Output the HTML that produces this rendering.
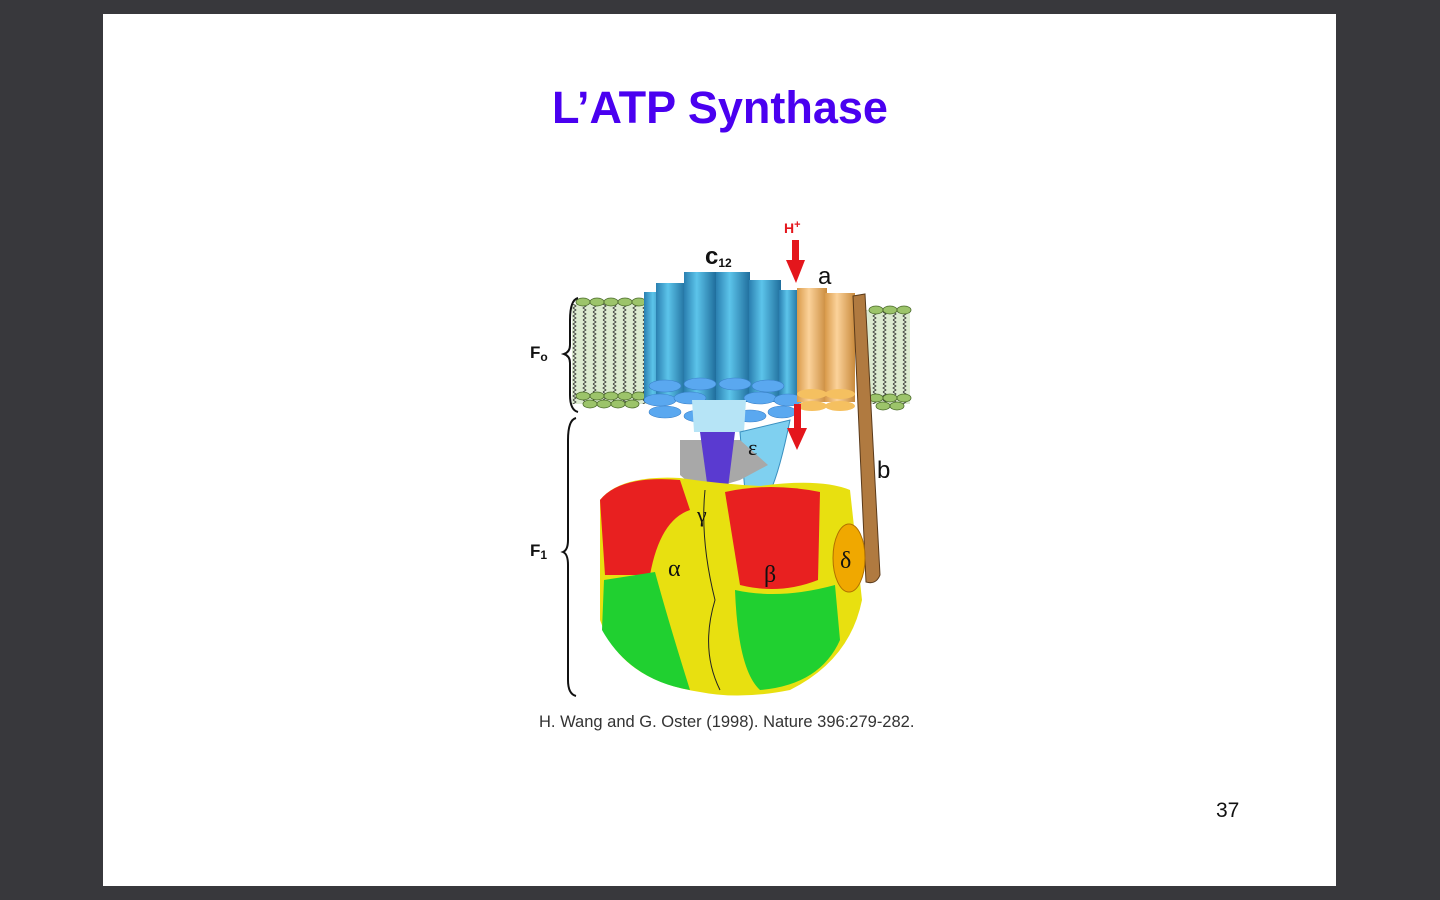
<!DOCTYPE html>
<html><head><meta charset="utf-8"><style>
html,body{margin:0;padding:0;width:1440px;height:900px;overflow:hidden;background:#38383c;font-family:"Liberation Sans",sans-serif}
#slide{position:absolute;left:103px;top:14px;width:1233px;height:872px;background:#fff}
#title{position:absolute;left:0;width:1440px;top:82px;text-align:center;font-weight:bold;font-size:45px;color:#4a00f0}
#cite{position:absolute;left:539px;top:713px;font-size:16.5px;color:#333}
#num{position:absolute;left:1216px;top:799px;font-size:21px;color:#111}
</style></head><body>
<div id="slide"></div>
<div id="title">L’ATP Synthase</div>
<svg width="1440" height="900" style="position:absolute;left:0;top:0">
<defs>
<linearGradient id="bl" x1="0" x2="1"><stop offset="0" stop-color="#2a7fb0"/><stop offset=".4" stop-color="#5cc4ea"/><stop offset="1" stop-color="#1f6d9c"/></linearGradient>
<linearGradient id="or" x1="0" x2="1"><stop offset="0" stop-color="#d99a4a"/><stop offset=".4" stop-color="#fbd29a"/><stop offset="1" stop-color="#c98a3c"/></linearGradient>
<pattern id="lip" width="10" height="8" patternUnits="userSpaceOnUse"><path d="M3 0 l3 2 -3 2 3 2 -3 2" stroke="#333" fill="none" stroke-width=".8"/></pattern>
</defs>
<rect x="572" y="304" width="75" height="100" fill="#dcebd0"/><rect x="572" y="304" width="75" height="100" fill="url(#lip)"/>
<rect x="862" y="310" width="48" height="94" fill="#dcebd0"/><rect x="862" y="310" width="48" height="94" fill="url(#lip)"/>
<g fill="#9cc46a" stroke="#4a6a2a" stroke-width=".8">
<ellipse cx="583" cy="302" rx="7" ry="4"/><ellipse cx="597" cy="302" rx="7" ry="4"/><ellipse cx="611" cy="302" rx="7" ry="4"/><ellipse cx="625" cy="302" rx="7" ry="4"/><ellipse cx="639" cy="302" rx="7" ry="4"/>
<ellipse cx="583" cy="396" rx="7" ry="4"/><ellipse cx="597" cy="396" rx="7" ry="4"/><ellipse cx="611" cy="396" rx="7" ry="4"/><ellipse cx="625" cy="396" rx="7" ry="4"/><ellipse cx="639" cy="396" rx="7" ry="4"/>
<ellipse cx="590" cy="404" rx="7" ry="4"/><ellipse cx="604" cy="404" rx="7" ry="4"/><ellipse cx="618" cy="404" rx="7" ry="4"/><ellipse cx="632" cy="404" rx="7" ry="4"/>
<ellipse cx="876" cy="310" rx="7" ry="4"/><ellipse cx="890" cy="310" rx="7" ry="4"/><ellipse cx="904" cy="310" rx="7" ry="4"/>
<ellipse cx="876" cy="398" rx="7" ry="4"/><ellipse cx="890" cy="398" rx="7" ry="4"/><ellipse cx="904" cy="398" rx="7" ry="4"/>
<ellipse cx="883" cy="406" rx="7" ry="4"/><ellipse cx="897" cy="406" rx="7" ry="4"/>
</g>
<g fill="url(#bl)">
<rect x="644" y="292" width="22" height="110"/><rect x="656" y="283" width="30" height="118"/><rect x="684" y="272" width="32" height="130"/><rect x="716" y="272" width="34" height="130"/><rect x="749" y="280" width="32" height="122"/><rect x="779" y="290" width="20" height="112"/>
</g>
<g fill="#5aa8f0" stroke="#3a80c8" stroke-width=".6">
<ellipse cx="665" cy="386" rx="16" ry="6"/><ellipse cx="700" cy="384" rx="16" ry="6"/><ellipse cx="735" cy="384" rx="16" ry="6"/><ellipse cx="768" cy="386" rx="16" ry="6"/>
<ellipse cx="660" cy="400" rx="16" ry="6"/><ellipse cx="690" cy="398" rx="16" ry="6"/><ellipse cx="760" cy="398" rx="16" ry="6"/><ellipse cx="788" cy="400" rx="14" ry="6"/>
<ellipse cx="665" cy="412" rx="16" ry="6"/><ellipse cx="700" cy="416" rx="16" ry="6"/><ellipse cx="750" cy="416" rx="16" ry="6"/><ellipse cx="782" cy="412" rx="14" ry="6"/>
<ellipse cx="725" cy="424" rx="16" ry="6"/>
</g>
<path d="M692 400 L746 400 L744 432 L694 432Z" fill="#b6e4f6"/>
<path d="M740 432 L790 420 Q780 470 770 492 L745 492Z" fill="#7fd0f0" stroke="#3a90c0"/>
<rect x="797" y="288" width="30" height="114" fill="url(#or)"/><rect x="825" y="293" width="30" height="109" fill="url(#or)"/>
<g fill="#f5c060"><ellipse cx="812" cy="394" rx="15" ry="5"/><ellipse cx="840" cy="394" rx="15" ry="5"/><ellipse cx="812" cy="406" rx="15" ry="5"/><ellipse cx="840" cy="406" rx="15" ry="5"/></g>
<path d="M853 296 L865 294 L880 575 Q876 585 866 582 Z" fill="#b07a40" stroke="#5a3a1a"/>
<path d="M680 440 L740 440 L768 465 L740 480 L700 492 L680 475Z" fill="#a8a8a8"/>
<path d="M700 432 L735 432 L728 488 L708 490Z" fill="#5a3ad0"/>
<path d="M600 500 Q620 475 680 478 Q720 484 760 486 Q820 478 850 490 L862 600 Q850 660 790 690 Q740 700 700 692 Q620 680 600 620 Z" fill="#e8e010"/>
<path d="M600 500 Q620 475 680 480 L690 510 Q660 520 650 575 L605 575 Z" fill="#e82020"/>
<path d="M725 492 Q770 482 820 492 L818 580 Q780 595 740 585 Z" fill="#e82020"/>
<path d="M604 580 L655 572 Q668 620 690 690 Q630 680 602 630Z" fill="#20d030"/>
<path d="M735 590 Q780 600 835 585 L840 640 Q820 685 760 690 Q738 670 735 590Z" fill="#20d030"/>
<path d="M705 490 Q700 540 715 600 Q700 650 720 690" stroke="#222" fill="none"/>
<ellipse cx="849" cy="558" rx="16" ry="34" fill="#f0a800" stroke="#b07000"/>
<g fill="#e4161c"><rect x="792" y="240" width="7" height="22"/><path d="M786 260 L805 260 L796 283Z"/><rect x="794" y="404" width="7" height="26"/><path d="M787 428 L807 428 L797 450Z"/></g>
<path d="M578 298 Q570 300 570 320 L570 345 Q570 352 564 354 Q570 356 570 363 L570 395 Q570 410 578 412" stroke="#111" stroke-width="2" fill="none"/>
<path d="M576 418 Q568 420 568 440 L568 540 Q568 550 563 552 Q568 554 568 565 L568 680 Q568 694 576 696" stroke="#111" stroke-width="2" fill="none"/>
<g font-family="Liberation Sans,sans-serif" fill="#111">
<text x="784" y="233" font-size="14" font-weight="bold" fill="#e4161c">H<tspan font-size="11" dy="-5">+</tspan></text>
<text x="705" y="264" font-size="24" font-weight="bold">c<tspan font-size="12" dy="3">12</tspan></text>
<text x="818" y="284" font-size="24">a</text>
<text x="877" y="478" font-size="24">b</text>
<text x="530" y="358" font-size="17" font-weight="bold">F<tspan font-size="12" dy="3">o</tspan></text>
<text x="530" y="556" font-size="17" font-weight="bold">F<tspan font-size="12" dy="3">1</tspan></text>
<text x="748" y="455" font-size="22" font-family="Liberation Serif,serif">ε</text>
<text x="697" y="522" font-size="22" font-family="Liberation Serif,serif">γ</text>
<text x="668" y="576" font-size="24" font-family="Liberation Serif,serif">α</text>
<text x="764" y="582" font-size="24" font-family="Liberation Serif,serif">β</text>
<text x="840" y="568" font-size="24" font-family="Liberation Serif,serif">δ</text>
</g>
</svg>
<div id="cite">H. Wang and G. Oster (1998). Nature 396:279-282.</div>
<div id="num">37</div>
</body></html>
